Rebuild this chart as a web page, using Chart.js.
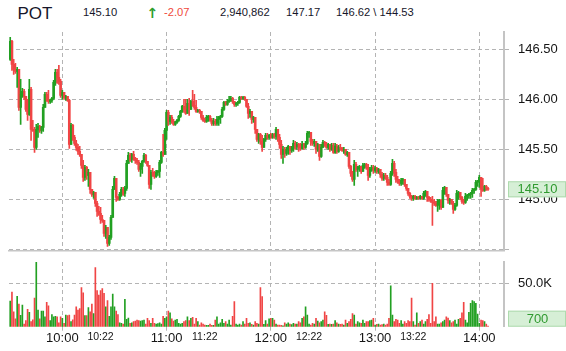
<!DOCTYPE html>
<html><head><meta charset="utf-8">
<script src="https://cdn.jsdelivr.net/npm/chart.js@4.4.1/dist/chart.umd.min.js"></script>
<style>
html,body{margin:0;padding:0;background:#fff;width:566px;height:351px;overflow:hidden;font-family:"Liberation Sans",Arial,sans-serif;}
.h{position:absolute;white-space:nowrap;line-height:1;color:#16162a;}
#pc{position:absolute;left:0;top:0;}
#vc{position:absolute;left:0;top:246px;}
</style></head>
<body>
<div class="h" style="left:17.5px;top:4.5px;font-size:17px;" id="sym"></div>
<div class="h" style="left:83px;top:7.4px;font-size:11.2px;" id="last"></div>
<div class="h" style="left:146.5px;top:5.5px;font-size:14px;font-weight:bold;font-family:'DejaVu Sans',sans-serif;color:#2e9e2e;" id="arrow">↑</div>
<div class="h" style="left:164px;top:7.4px;font-size:11.2px;color:#f04a3c;" id="chg"></div>
<div class="h" style="left:220px;top:7.4px;font-size:11.2px;" id="tvol"></div>
<div class="h" style="left:286px;top:7.4px;font-size:11.2px;" id="prev"></div>
<div class="h" style="left:336px;top:7.4px;font-size:11.2px;" id="hilo"></div>
<canvas id="pc" width="566" height="267"></canvas>
<canvas id="vc" width="566" height="105"></canvas>
<script>
// ---- header values ----
const symbol = "POT";
const lastPrice = "145.10";
const change = "-2.07";
const totalVolume = "2,940,862";
const prevClose = "147.17";
const dayHigh = "146.62";
const dayLow = "144.53";

// ---- 1-minute bars from 9:30 (minute index 0) ----
const firstOpen = 146.40;
const closes = [146.58,146.35,146.30,146.28,146.30,145.92,146.05,146.08,146.03,145.90,
145.85,146.10,145.70,145.69,145.52,145.70,145.73,145.69,145.72,145.92,
146.05,146.00,145.98,145.99,146.01,146.17,146.27,146.22,146.18,146.04,
146.07,146.02,146.03,145.99,145.55,145.74,145.62,145.56,145.52,145.48,
145.45,145.34,145.22,145.32,145.24,145.27,145.10,145.05,145.07,144.96,
144.88,144.86,144.80,144.79,144.66,144.72,144.56,144.62,144.82,145.10,
145.21,145.02,145.00,145.05,145.10,145.06,145.11,145.36,145.44,145.40,
145.45,145.41,145.39,145.37,145.30,145.33,145.38,145.44,145.38,145.34,
145.15,145.27,145.25,145.23,145.27,145.28,145.37,145.47,145.45,145.69,
145.87,145.78,145.82,145.78,145.75,145.77,145.79,145.83,145.88,145.93,
145.90,145.86,145.96,145.90,145.98,145.94,145.92,145.88,145.89,145.88,
145.82,145.79,145.78,145.82,145.83,145.79,145.76,145.78,145.76,145.80,
145.82,145.83,145.90,145.97,145.95,145.98,145.99,146.01,145.98,145.95,
145.96,145.97,146.02,146.01,146.02,146.00,145.93,145.86,145.88,145.80,
145.82,145.70,145.60,145.65,145.58,145.52,145.60,145.64,145.62,145.64,
145.62,145.65,145.63,145.70,145.62,145.55,145.45,145.50,145.46,145.50,
145.53,145.49,145.51,145.56,145.53,145.55,145.52,145.51,145.55,145.52,
145.56,145.66,145.67,145.58,145.56,145.58,145.50,145.55,145.43,145.52,
145.57,145.55,145.52,145.55,145.50,145.54,145.47,145.53,145.48,145.52,
145.51,145.49,145.50,145.45,145.47,145.33,145.26,145.20,145.35,145.30,
145.32,145.33,145.28,145.34,145.35,145.32,145.24,145.30,145.32,145.29,
145.31,145.28,145.30,145.25,145.21,145.24,145.22,145.17,145.15,145.26,
145.36,145.27,145.20,145.18,145.16,145.19,145.20,145.15,145.11,145.06,
145.03,145.01,145.03,145.01,145.02,145.01,145.03,145.01,145.06,145.08,
145.02,145.00,144.99,144.97,144.96,144.94,144.98,144.99,144.92,145.09,
145.12,145.05,144.99,145.00,144.96,144.90,144.94,145.06,145.07,145.02,
144.98,144.97,145.03,145.04,145.05,145.06,145.09,145.10,145.17,145.18,
145.22,145.10,145.09,145.13,145.11,145.10];
const highs = [146.62,146.59,146.40,146.36,146.32,146.22,146.20,146.11,146.10,146.00,
146.00,146.20,146.12,145.79,145.72,145.75,145.76,145.74,145.73,145.95,
146.07,146.07,146.09,146.00,146.02,146.19,146.30,146.30,146.34,146.20,
146.09,146.07,146.04,146.03,146.00,145.76,145.75,145.64,145.59,145.55,
145.53,145.45,145.39,145.34,145.33,145.30,145.20,145.10,145.08,145.07,
144.98,144.93,144.92,144.84,144.79,144.74,144.70,144.64,144.84,145.13,
145.23,145.15,145.03,145.07,145.12,145.12,145.13,145.39,145.47,145.46,
145.46,145.48,145.42,145.41,145.39,145.36,145.39,145.46,145.45,145.38,
145.34,145.29,145.31,145.28,145.29,145.29,145.39,145.48,145.65,145.71,
145.89,145.89,145.84,145.84,145.80,145.78,145.80,145.84,145.89,145.94,
146.00,146.00,146.00,146.01,145.99,146.09,146.05,145.99,145.90,145.90,
145.87,145.84,145.81,145.84,145.84,145.84,145.81,145.81,145.80,145.83,
145.83,145.84,145.92,145.98,145.98,146.00,146.03,146.03,146.02,145.98,
145.97,145.98,146.03,146.03,146.03,146.03,146.00,145.96,145.90,145.88,
145.83,145.80,145.70,145.66,145.66,145.64,145.61,145.66,145.66,145.65,
145.66,145.66,145.66,145.72,145.70,145.65,145.59,145.53,145.52,145.52,
145.54,145.53,145.53,145.59,145.58,145.57,145.56,145.56,145.58,145.56,
145.58,145.68,145.68,145.66,145.60,145.60,145.58,145.56,145.55,145.55,
145.59,145.58,145.57,145.56,145.55,145.56,145.56,145.56,145.55,145.54,
145.55,145.52,145.52,145.50,145.48,145.45,145.34,145.28,145.39,145.37,
145.33,145.34,145.31,145.36,145.36,145.36,145.35,145.32,145.34,145.34,
145.33,145.32,145.31,145.30,145.27,145.26,145.26,145.24,145.20,145.28,
145.40,145.38,145.30,145.23,145.20,145.21,145.21,145.20,145.14,145.11,
145.07,145.04,145.04,145.04,145.03,145.03,145.04,145.03,145.08,145.09,
145.06,145.03,145.02,145.03,145.00,144.98,145.00,145.00,145.00,145.12,
145.13,145.11,145.04,145.01,145.00,144.98,144.96,145.09,145.08,145.07,
145.03,145.00,145.06,145.05,145.06,145.07,145.11,145.11,145.19,145.19,
145.24,145.18,145.21,145.14,145.14,145.12];
const lows = [146.39,146.29,146.25,146.26,146.12,145.89,145.75,146.02,146.00,145.88,
145.79,145.84,145.59,145.68,145.47,145.50,145.62,145.67,145.66,145.68,
145.92,145.98,145.96,145.96,145.97,146.00,146.14,146.16,146.15,146.02,
146.00,146.00,145.99,145.98,145.51,145.55,145.59,145.54,145.49,145.45,
145.43,145.31,145.18,145.19,145.20,145.13,145.06,145.03,145.01,144.93,
144.83,144.84,144.76,144.77,144.63,144.61,144.53,144.54,144.60,144.82,
145.10,144.98,144.99,144.99,145.03,145.04,145.03,145.09,145.36,145.38,
145.37,145.39,145.36,145.35,145.28,145.23,145.26,145.37,145.36,145.33,
145.11,145.10,145.23,145.21,145.22,145.24,145.22,145.36,145.43,145.45,
145.60,145.74,145.75,145.76,145.74,145.74,145.76,145.78,145.82,145.87,
145.87,145.85,145.86,145.84,145.90,145.93,145.90,145.87,145.87,145.86,
145.80,145.78,145.77,145.77,145.78,145.78,145.74,145.74,145.74,145.74,
145.74,145.76,145.82,145.89,145.94,145.94,145.97,145.98,145.96,145.93,
145.93,145.94,145.96,146.00,146.00,145.99,145.92,145.81,145.82,145.76,
145.77,145.66,145.58,145.56,145.55,145.48,145.52,145.58,145.60,145.60,
145.61,145.61,145.61,145.60,145.58,145.51,145.41,145.36,145.42,145.44,
145.45,145.45,145.47,145.48,145.50,145.50,145.48,145.49,145.50,145.50,
145.51,145.55,145.62,145.54,145.54,145.53,145.46,145.48,145.39,145.42,
145.52,145.53,145.51,145.50,145.48,145.49,145.46,145.46,145.46,145.47,
145.49,145.48,145.46,145.44,145.43,145.31,145.23,145.18,145.14,145.28,
145.23,145.28,145.26,145.28,145.31,145.30,145.19,145.22,145.28,145.26,
145.27,145.26,145.26,145.22,145.19,145.19,145.20,145.14,145.14,145.14,
145.24,145.23,145.17,145.16,145.14,145.14,145.15,145.13,145.09,145.04,
145.01,144.99,144.99,145.00,145.00,145.00,145.00,145.00,145.00,145.03,
144.98,144.98,144.97,144.74,144.94,144.93,144.88,144.90,144.90,144.92,
145.05,145.03,144.96,144.95,144.95,144.86,144.89,144.93,145.00,145.00,
144.96,144.95,144.96,144.99,145.01,145.01,145.02,145.06,145.09,145.13,
145.12,145.03,145.08,145.08,145.09,145.09];
const volumes = [29600,40000,17000,9000,35000,26000,13000,25000,3000,7000,
20000,16500,6000,8000,33000,74000,19000,9000,18000,18000,
11500,28000,24000,7000,14000,11500,12000,11500,4600,11500,
9600,4000,13500,12700,13500,6000,8000,13500,23000,19000,
21000,45000,39000,12700,12700,22000,17000,26000,15000,68000,
41500,36500,41500,44000,38500,23000,30000,12000,23000,37700,
23000,18000,14000,4600,4000,3000,31500,8500,10000,4000,
4600,5800,6500,7700,7000,6500,7000,7700,3000,9600,
7000,4000,9600,4000,3000,3500,4600,3000,12000,9600,
11500,18000,16000,9000,6500,7700,8500,4000,3000,4000,
6000,7000,11500,7000,9600,10800,3000,9600,6000,2000,
4600,3000,2000,1500,1500,3000,1500,1500,7700,11500,
3000,4600,8500,4000,6000,3000,7700,2000,12000,29000,
3000,2000,3000,2000,6000,3000,9600,4000,4600,2700,
2000,6000,4000,3000,45000,34600,2700,7000,3000,9000,
9600,9600,7700,3000,2000,2000,1500,1000,4600,3000,
4600,3000,2300,4000,3000,3000,6000,4600,9600,11500,
23000,13500,3000,2000,4000,3000,9600,6500,4600,6000,
7700,17000,13000,2700,3000,2700,3000,7000,4600,3000,
2700,3000,2000,7700,4000,6000,8500,15000,13500,3000,
6000,4600,4000,7700,4000,6000,6000,7000,7700,9600,
2000,2700,3000,2000,2300,3000,2000,3000,9600,47000,
13500,6000,8500,7700,4000,7000,3000,6000,4000,7000,
6000,33000,6000,2000,16000,4000,6000,7700,3000,6000,
8500,14000,4000,50000,6000,11500,3000,3000,4600,6000,
7700,11500,10000,7000,4600,6000,7700,3000,8500,9600,
16000,28000,7700,4600,16500,27000,30000,29000,27000,14600,
4000,7700,7000,6000,3000,700];

// ---- axis ticks (x in minutes after 9:30) ----
const xMin = -0.7, xMax = 284.2;
const hourTicks = [30, 90, 150, 210, 270];
const timeTicks = [30, 52, 90, 112, 150, 172, 210, 232, 270];
const timeLabels = ["10:00","10:22","11:00","11:22","12:00","12:22","13:00","13:22","14:00"];
const timeMajor = [true,false,true,false,true,false,true,false,true];
const priceTicks = [144.5, 145.0, 145.5, 146.0, 146.5];
const priceLabels = ["", "145.00", "145.50", "146.00", "146.50"];
const priceMin = 144.488, priceMax = 146.673;
const volTicks = [50000];
const volLabels = ["50.0K"];
const volMax = 74500;
const lastVolumeLabel = "700";

document.getElementById('sym').textContent = symbol;
document.getElementById('last').textContent = lastPrice;
document.getElementById('chg').textContent = change;
document.getElementById('tvol').textContent = totalVolume;
document.getElementById('prev').textContent = prevClose;
document.getElementById('hilo').textContent = dayHigh + " \\ " + dayLow;

const UP = '#22a022', DOWN = '#f04545';
const FONT = '"Liberation Sans", Arial, sans-serif';
const GRID = '#b4b4b4';
const opens = closes.map((c, i) => i === 0 ? firstOpen : closes[i - 1]);
const barColors = closes.map((c, i) => c >= opens[i] ? UP : DOWN);
const wickData = closes.map((c, i) => ({x: i, y: [Math.min(lows[i], opens[i], c), Math.max(highs[i], opens[i], c)]}));
const bodyData = closes.map((c, i) => ({x: i, y: [Math.min(opens[i], c), Math.max(opens[i], c)]}));
const volData = volumes.map((v, i) => ({x: i, y: v}));

function tagBox(ctx, cy, text) {
  ctx.save();
  ctx.fillStyle = '#d6efd6';
  ctx.strokeStyle = '#aedbae';
  ctx.lineWidth = 1;
  ctx.fillRect(508, cy - 8, 58, 16);
  ctx.strokeRect(508.5, cy - 7.5, 57, 15);
  ctx.fillStyle = '#2f9a2f';
  ctx.font = '13px ' + FONT;
  ctx.textAlign = 'center';
  ctx.textBaseline = 'middle';
  ctx.fillText(text, 537.5, cy + 0.5);
  ctx.restore();
}

const priceTag = {
  id: 'priceTag',
  afterDraw(chart) {
    const y = chart.scales.y.getPixelForValue(closes[closes.length - 1]);
    tagBox(chart.ctx, y, closes[closes.length - 1].toFixed(2));
  }
};
const volTag = {
  id: 'volTag',
  afterDraw(chart) {
    const s = chart.scales.y;
    const y = Math.min(s.getPixelForValue(volumes[volumes.length - 1]), chart.chartArea.bottom - 8);
    tagBox(chart.ctx, y, lastVolumeLabel);
  }
};

new Chart(document.getElementById('pc'), {
  type: 'bar',
  data: {datasets: [
    {data: wickData, backgroundColor: barColors, barThickness: 1, grouped: false},
    {data: bodyData, backgroundColor: barColors, barThickness: 2, minBarLength: 1, grouped: false}
  ]},
  options: {
    responsive: false, animation: false, events: [],
    layout: {padding: {left: 9, top: 32, right: 0, bottom: 16.5}},
    plugins: {legend: {display: false}, tooltip: {enabled: false}},
    scales: {
      x: {
        type: 'linear', min: xMin, max: xMax, offset: false,
        afterBuildTicks: s => { s.ticks = hourTicks.map(v => ({value: v})); },
        afterFit: s => { s.height = 0; },
        ticks: {display: false},
        grid: {color: GRID, lineWidth: 1, drawTicks: false, offset: false},
        border: {display: true, color: '#c6c6c6', width: 1.5, dash: [4, 3]}
      },
      y: {
        position: 'right', min: priceMin, max: priceMax,
        afterBuildTicks: s => { s.ticks = priceTicks.map(v => ({value: v})); },
        afterFit: s => { s.width = 62; },
        ticks: {callback: (v, i) => priceLabels[i], color: '#151515', font: {family: FONT, size: 13}, padding: 8},
        grid: {color: GRID, lineWidth: 1, tickLength: 6, tickColor: GRID, tickBorderDash: [4, 3]},
        border: {display: true, color: '#c4c4c4', width: 2, dash: [4, 3]}
      }
    }
  },
  plugins: [priceTag]
});

new Chart(document.getElementById('vc'), {
  type: 'bar',
  data: {datasets: [{data: volData, backgroundColor: barColors, barThickness: 1}]},
  options: {
    responsive: false, animation: false, events: [],
    layout: {padding: {left: 9, top: 16, right: 0, bottom: 0}},
    plugins: {legend: {display: false}, tooltip: {enabled: false}},
    scales: {
      x: {
        type: 'linear', min: xMin, max: xMax, offset: false,
        afterBuildTicks: s => { s.ticks = timeTicks.map(v => ({value: v})); },
        afterFit: s => { s.height = 24.3; },
        ticks: {
          autoSkip: false, maxRotation: 0, padding: 0, color: '#151515',
          callback: (v, i) => timeLabels[i],
          font: ctx => ({family: FONT, size: timeMajor[ctx.index] ? 13 : 10.5})
        },
        grid: {
          offset: false, lineWidth: 1, tickLength: 4,
          color: ctx => timeMajor[ctx.index] ? GRID : 'rgba(0,0,0,0)',
          tickColor: ctx => timeMajor[ctx.index] ? GRID : 'rgba(0,0,0,0)',
          tickBorderDash: [4, 3]
        },
        border: {display: false, dash: [4, 3]}
      },
      y: {
        position: 'right', min: 0, max: volMax,
        afterBuildTicks: s => { s.ticks = volTicks.map(v => ({value: v})); },
        afterFit: s => { s.width = 62; },
        ticks: {callback: (v, i) => volLabels[i], color: '#151515', font: {family: FONT, size: 13}, padding: 8},
        grid: {color: GRID, lineWidth: 1, tickLength: 6, tickColor: GRID, tickBorderDash: [4, 3]},
        border: {display: true, color: '#c4c4c4', width: 2, dash: [4, 3]}
      }
    }
  },
  plugins: [volTag]
});
</script>
</body></html>
